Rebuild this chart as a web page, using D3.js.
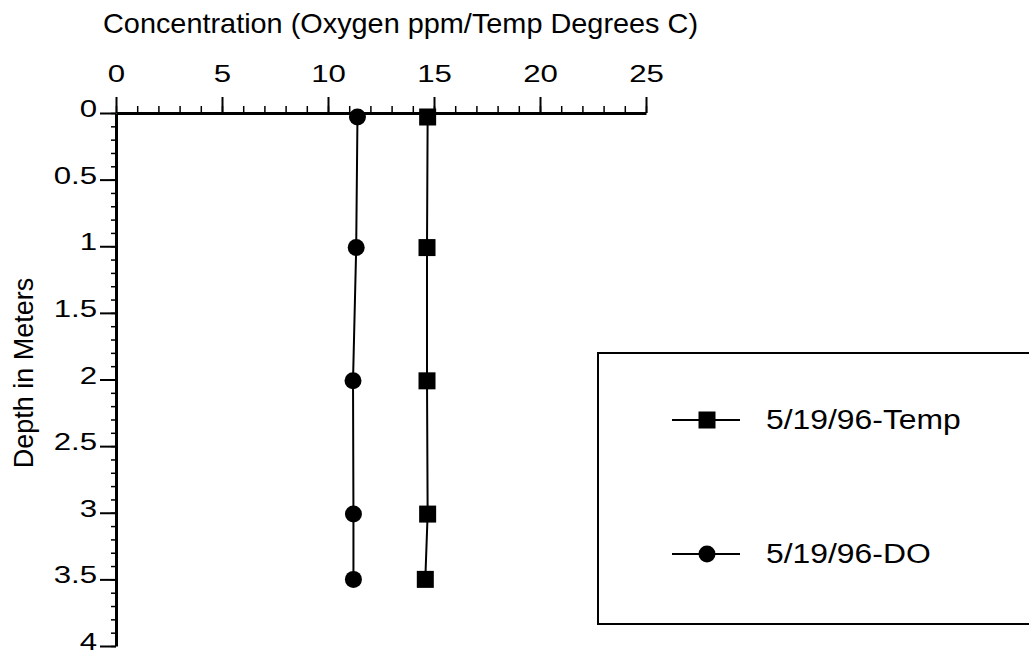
<!DOCTYPE html>
<html>
<head>
<meta charset="utf-8">
<script src="https://cdn.jsdelivr.net/npm/d3@7"></script>
<style>
  body { margin: 0; background: #fff; }
  svg, svg text { font-family: "Liberation Sans", Arial, sans-serif; }
  .axis path, .axis line { stroke: #000; }
  .axis text { fill: #000; }
</style>
</head>
<body>
<svg id="chart" width="1029" height="655"></svg>
<script>
// values
var depths = [0.03, 1.01, 2.01, 3.01, 3.5];
var tempVals = [14.7, 14.67, 14.67, 14.7, 14.59];
var doVals = [11.39, 11.33, 11.18, 11.2, 11.2];
var xTicks = [0, 5, 10, 15, 20, 25];
var yTicks = [0, 0.5, 1, 1.5, 2, 2.5, 3, 3.5, 4];
var seriesNames = ["5/19/96-Temp", "5/19/96-DO"];

var svg = d3.select("#chart");

var x = d3.scaleLinear().domain([0, 25]).range([116, 646]);
var y = d3.scaleLinear().domain([0, 4]).range([113, 646]);

// the scanned lettering is wider than normal Arial
stretch = function(sel, k) {
    sel.each(function() {
        var len = this.getComputedTextLength();
        d3.select(this).attr("textLength", len * k).attr("lengthAdjust", "spacingAndGlyphs");
    });
};

// minor ticks first, majors on top
svg.append("g")
    .attr("class", "axis")
    .attr("transform", "translate(0," + y(0) + ")")
    .call(d3.axisTop(x).tickValues(d3.range(0, 26, 1)).tickSize(7).tickFormat(""))
    .call(g => g.select(".domain").remove())
    .selectAll("line").attr("stroke-width", 1.5);

svg.append("g")
    .attr("class", "axis")
    .attr("transform", "translate(" + x(0) + ",0)")
    .call(d3.axisLeft(y).tickValues(d3.range(0, 41).map(d => d / 10)).tickSize(5).tickFormat(""))
    .call(g => g.select(".domain").remove())
    .selectAll("line").attr("stroke-width", 1.5);

var xAxis = svg.append("g")
    .attr("class", "axis")
    .attr("transform", "translate(0," + y(0) + ")")
    .call(d3.axisTop(x).tickValues(xTicks).tickSize(16).tickSizeOuter(0).tickPadding(15));
xAxis.attr("font-family", null).attr("font-size", 24);
xAxis.select(".domain").attr("stroke-width", 3);
xAxis.selectAll("line").attr("stroke-width", 2);
xAxis.selectAll("text").call(stretch, 1.3);

var yAxis = svg.append("g")
    .attr("class", "axis")
    .attr("transform", "translate(" + x(0) + ",0)")
    .call(d3.axisLeft(y).tickValues(yTicks).tickSize(16).tickSizeOuter(0).tickPadding(3)
        .tickFormat(d => String(d)));
yAxis.attr("font-family", null).attr("font-size", 24);
yAxis.select(".domain").attr("stroke-width", 3);
yAxis.selectAll("line").attr("stroke-width", 2);
yAxis.selectAll("text").attr("dy", "0.15em").call(stretch, 1.3);

// titles
svg.append("text")
    .attr("x", 103).attr("y", 33)
    .attr("font-size", 28)
    .attr("textLength", 595).attr("lengthAdjust", "spacingAndGlyphs")
    .text("Concentration (Oxygen ppm/Temp Degrees C)");

svg.append("text")
    .attr("transform", "translate(33,373) rotate(-90)")
    .attr("text-anchor", "middle")
    .attr("font-size", 27)
    .text("Depth in Meters");

// series
var line = d3.line();
var tempPts = depths.map((d, i) => [x(tempVals[i]), y(d)]);
var doPts = depths.map((d, i) => [x(doVals[i]), y(d)]);

svg.append("path").attr("d", line(tempPts))
    .attr("fill", "none").attr("stroke", "#000").attr("stroke-width", 2);
svg.append("path").attr("d", line(doPts))
    .attr("fill", "none").attr("stroke", "#000").attr("stroke-width", 2);

var sq = 17;
svg.selectAll(".tmark").data(tempPts).enter().append("rect")
    .attr("x", d => d[0] - sq / 2).attr("y", d => d[1] - sq / 2)
    .attr("width", sq).attr("height", sq).attr("fill", "#000");
svg.selectAll(".dmark").data(doPts).enter().append("circle")
    .attr("cx", d => d[0]).attr("cy", d => d[1]).attr("r", 8.5).attr("fill", "#000");

// legend
svg.append("rect")
    .attr("x", 598).attr("y", 353).attr("width", 460).attr("height", 271)
    .attr("fill", "none").attr("stroke", "#000").attr("stroke-width", 2);

var legY = [420, 554];
seriesNames.forEach(function(name, i) {
    var g = svg.append("g");
    g.append("line").attr("x1", 672).attr("x2", 740).attr("y1", legY[i]).attr("y2", legY[i])
        .attr("stroke", "#000").attr("stroke-width", 2);
    if (i == 0) {
        g.append("rect").attr("x", 707 - sq / 2).attr("y", legY[i] - sq / 2)
            .attr("width", sq).attr("height", sq).attr("fill", "#000");
    } else {
        g.append("circle").attr("cx", 707).attr("cy", legY[i]).attr("r", 8.5).attr("fill", "#000");
    }
    g.append("text").attr("x", 766).attr("y", legY[i] + 9).attr("font-size", 27)
        .text(name).call(stretch, 1.18);
});
</script>
</body>
</html>
